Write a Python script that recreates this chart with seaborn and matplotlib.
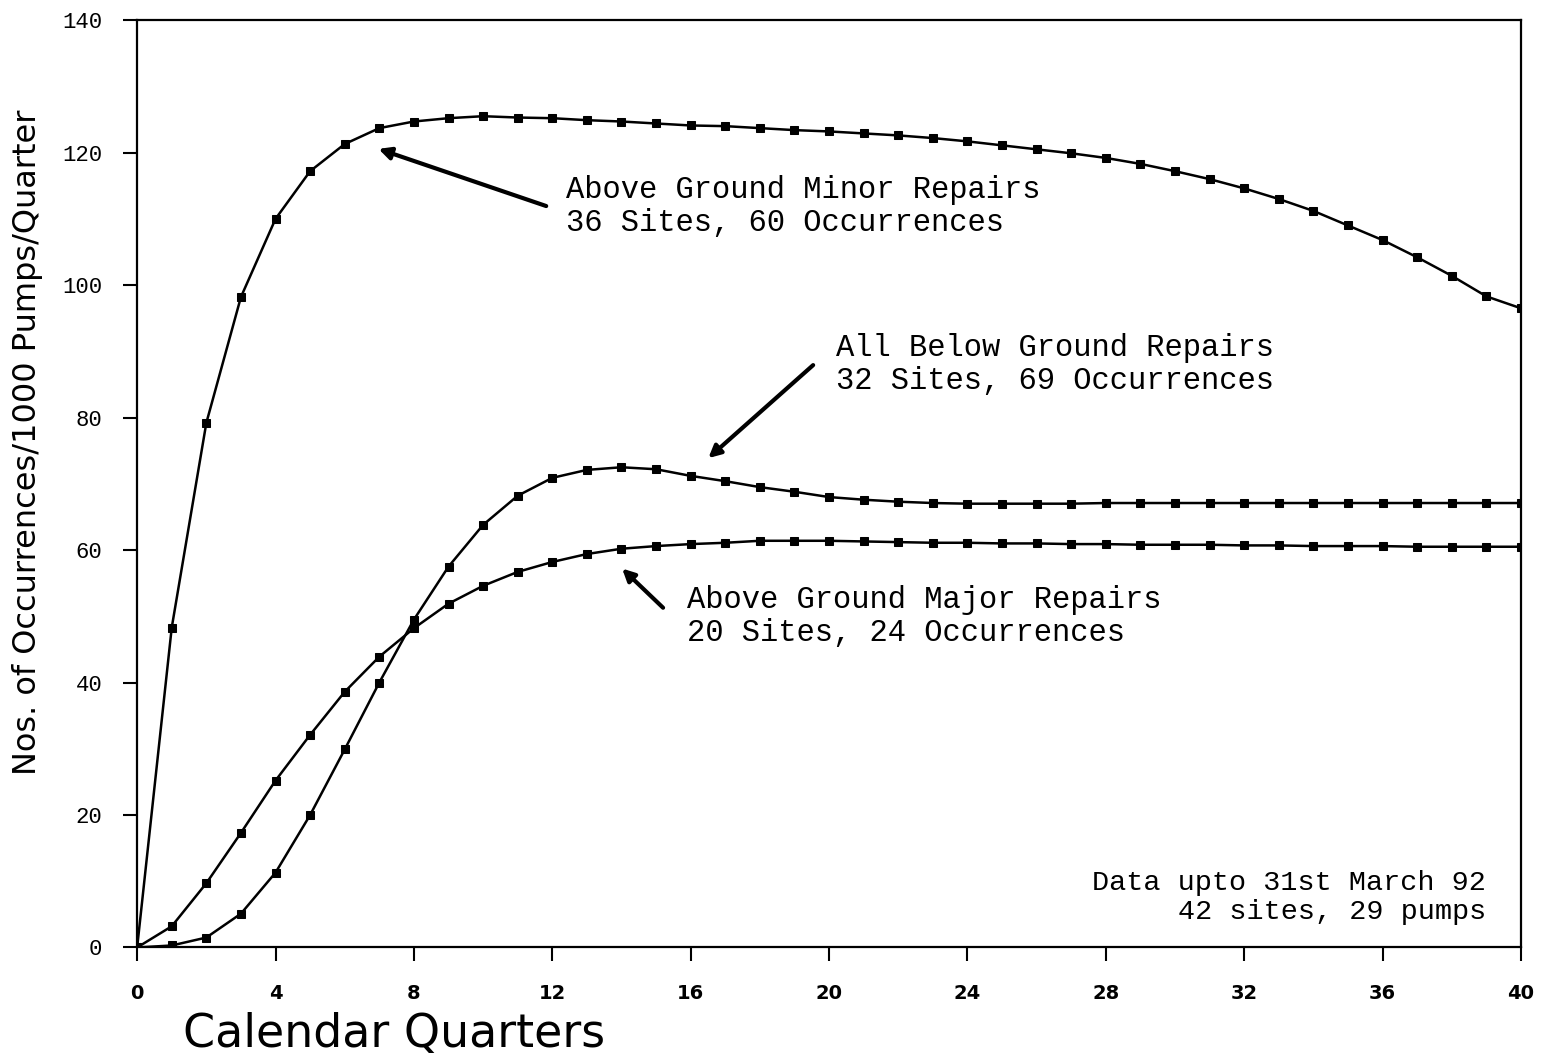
import matplotlib
matplotlib.use("Agg")
import matplotlib.pyplot as plt
import seaborn as sns
import pandas as pd

quarters = list(range(0, 41))

minor_above = [0, 48.3, 79.2, 98.2, 110.0, 117.2, 121.3, 123.7, 124.7, 125.2,
               125.5, 125.3, 125.2, 124.9, 124.7, 124.4, 124.1, 124.0, 123.7, 123.4,
               123.2, 122.9, 122.6, 122.2, 121.7, 121.1, 120.5, 119.9, 119.2, 118.3,
               117.2, 116.0, 114.6, 113.0, 111.2, 109.0, 106.8, 104.2, 101.4, 98.3,
               96.5]

all_below = [0, 0.3, 1.5, 5.1, 11.3, 20.0, 29.9, 40.0, 49.5, 57.5,
             63.8, 68.2, 70.9, 72.1, 72.5, 72.2, 71.2, 70.4, 69.5, 68.8,
             68.0, 67.6, 67.3, 67.1, 67.0, 67.0, 67.0, 67.0, 67.1, 67.1,
             67.1, 67.1, 67.1, 67.1, 67.1, 67.1, 67.1, 67.1, 67.1, 67.1,
             67.1]

major_above = [0, 3.2, 9.7, 17.3, 25.2, 32.1, 38.6, 43.9, 48.2, 51.9,
               54.6, 56.7, 58.2, 59.4, 60.2, 60.6, 60.9, 61.1, 61.4, 61.4,
               61.4, 61.3, 61.2, 61.1, 61.1, 61.0, 61.0, 60.9, 60.9, 60.8,
               60.8, 60.8, 60.7, 60.7, 60.6, 60.6, 60.6, 60.5, 60.5, 60.5,
               60.5]

x_ticks = list(range(0, 41, 4))
y_ticks = list(range(0, 141, 20))

sns.set_style("ticks")
plt.rcParams['font.family'] = ['DejaVu Sans']
plt.rcParams.update({'text.color': 'black', 'axes.labelcolor': 'black',
                     'xtick.color': 'black', 'ytick.color': 'black',
                     'axes.edgecolor': 'black'})

data = pd.DataFrame({"quarter": quarters * 3,
                     "value": minor_above + all_below + major_above,
                     "series": ["minor"] * 41 + ["below"] * 41 + ["major"] * 41})

fig, ax = plt.subplots(figsize=(15.41, 10.61), dpi=100)
fig.subplots_adjust(left=0.089, right=0.987, top=0.981, bottom=0.107)

for s in ["minor", "below", "major"]:
    sns.lineplot(data=data[data["series"] == s], x="quarter", y="value", ax=ax,
                 color="black", linewidth=1.8, marker="s", markersize=5.5,
                 markeredgecolor="black", markerfacecolor="black")

ax.set_xlim(0, 40)
ax.set_ylim(0, 140)
ax.set_xticks(x_ticks)
ax.set_yticks(y_ticks)
ax.tick_params(direction="out", length=10, width=1.5)
ax.tick_params(axis="x", pad=16)
ax.tick_params(axis="y", pad=15)
for lab in ax.get_xticklabels():
    lab.set_fontsize(14)
    lab.set_fontweight("bold")
for lab in ax.get_yticklabels():
    lab.set_family("Liberation Mono")
    lab.set_fontsize(16)
for sp in ax.spines.values():
    sp.set_linewidth(1.6)

ax.set_ylabel("Nos. of Occurrences/1000 Pumps/Quarter", fontsize=23)
ax.yaxis.set_label_coords(-0.068, 0.545, transform=ax.transAxes)
ax.set_xlabel("Calendar Quarters", fontsize=33)
ax.xaxis.set_label_coords(0.033, -0.07, transform=ax.transAxes)
ax.xaxis.label.set_horizontalalignment("left")
ax.xaxis.label.set_verticalalignment("top")

txt = dict(fontsize=22, va="center", ha="left", linespacing=1.15,
           family="Liberation Mono")
ax.text(12.4, 111.9, "Above Ground Minor Repairs\n36 Sites, 60 Occurrences", **txt)
ax.text(20.2, 88.0, "All Below Ground Repairs\n32 Sites, 69 Occurrences", **txt)
ax.text(15.9, 50.0, "Above Ground Major Repairs\n20 Sites, 24 Occurrences", **txt)
ax.text(39.0, 7.6, "Data upto 31st March 92\n42 sites, 29 pumps", fontsize=20.5,
        family="Liberation Mono", va="center", ha="right",
        multialignment="right", linespacing=1.15)

arrow = dict(arrowstyle="-|>", color="black", lw=3, mutation_scale=18)
ax.annotate("", xy=(6.9, 120.7), xytext=(11.9, 111.8), arrowprops=arrow)
ax.annotate("", xy=(16.45, 73.6), xytext=(19.6, 88.2), arrowprops=arrow)
ax.annotate("", xy=(13.96, 57.5), xytext=(15.26, 51), arrowprops=arrow)

plt.savefig("out.png", dpi=100)
